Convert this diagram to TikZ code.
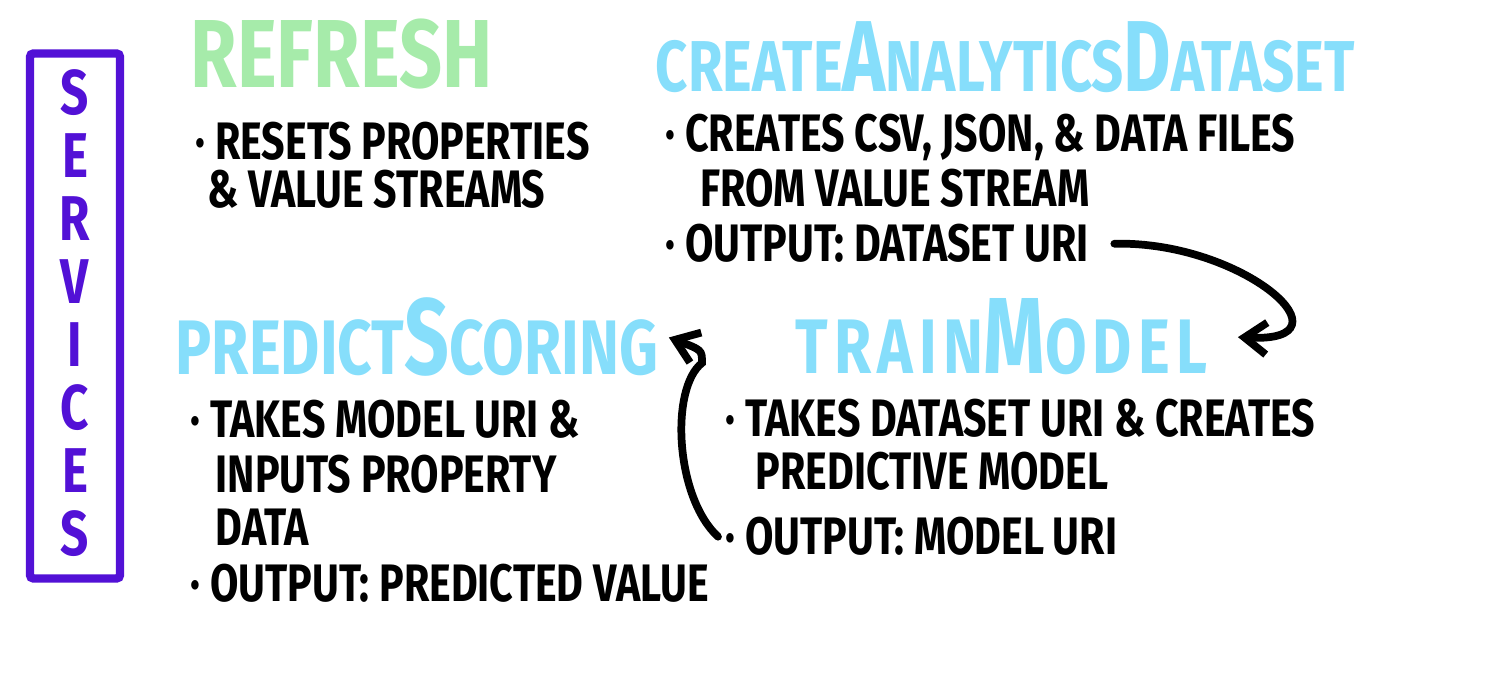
\documentclass[tikz,border=0pt]{standalone}
\usepackage{fontspec}
\usepackage{graphicx}
\setmainfont{Fira Sans}[FakeStretch=0.78]
\usetikzlibrary{arrows.meta}

\definecolor{svblue}{HTML}{86DEFB}
\definecolor{svgreen}{HTML}{A6EBAA}
\definecolor{svpurple}{HTML}{5211D6}

\newcommand\hicap[1]{\scalebox{1.3}[1.4]{#1}}

\begin{document}
\begin{tikzpicture}[
    title/.style={anchor=base west, inner sep=0pt, font=\bfseries\fontsize{21}{21}\selectfont, text=svblue},
    body/.style={anchor=base west, inner sep=0pt, font=\bfseries\fontsize{15}{15}\selectfont},
    vletter/.style={inner sep=0pt, font=\bfseries\fontsize{18}{18}\selectfont, text=svpurple},
    flow/.style={-{Straight Barb[length=2.2mm,width=3.2mm]}, line width=2.2pt, line cap=round}]
    \useasboundingbox (0,0) rectangle (15.02,6.88);

    \node[draw=svpurple, line width=2.4pt, rounded corners=1pt, minimum width=0.9cm, minimum height=5.25cm, inner sep=0pt] (services) at (0.75,3.72) {};
    \foreach \ch [count=\i] in {S,E,R,V,I,C,E,S}
        \node[vletter] (v\i) at (0.75,{6.58-0.63*\i}) {\ch};

    \node[title, text=svgreen, font=\bfseries\fontsize{27.5}{27.5}\selectfont] (refresh) at (1.90,6.00) {REFRESH};
    \node[body] (resets) at (1.95,5.28) {· RESETS PROPERTIES};
    \node[body] (resets2) at (2.07,4.80) {\& VALUE STREAMS};

    \node[title, font=\bfseries\fontsize{20.5}{20.5}\selectfont] (create) at (6.55,5.96) {CREATE\hicap{A}NALYTICS\hicap{D}ATASET};
    \node[body] (csv) at (6.65,5.36) {· CREATES CSV, JSON, \& DATA FILES};
    \node[body] (csv2) at (7.00,4.81) {FROM VALUE STREAM};
    \node[body] (dsuri) at (6.65,4.26) {· OUTPUT: DATASET URI};

    \node[title, font=\bfseries\fontsize{22}{22}\selectfont] (pred) at (1.75,3.13) {PREDICT\hicap{S}CORING};
    \node[body] (takes) at (1.90,2.50) {· TAKES MODEL URI \&};
    \node[body] (inputs) at (2.15,1.95) {INPUTS PROPERTY};
    \node[body] (data) at (2.15,1.42) {DATA};
    \node[body] (pvalue) at (1.90,0.86) {· OUTPUT: PREDICTED VALUE};

    \node[title, font=\bfseries\fontsize{22}{22}\selectfont\addfontfeature{LetterSpace=8}] (train) at (7.95,3.14) {TRAIN\hicap{M}ODEL};
    \node[body] (tkds) at (7.25,2.51) {· TAKES DATASET URI \& CREATES};
    \node[body] (predm) at (7.55,1.98) {PREDICTIVE MODEL};
    \node[body] (muri) at (7.25,1.33) {· OUTPUT: MODEL\,URI};

    \coordinate (bend) at (7.02,3.25);
    \draw[flow] ([xshift=2.5mm]dsuri.east) .. controls +(1.3,0.03) and +(1.2,-0.06) .. ([xshift=3mm]train.east);
    \draw[flow] ([xshift=-0.7mm]muri.west) .. controls +(-0.43,0.4) and (6.7,3.0) .. (bend)
        .. controls (7.02,3.38) .. ([xshift=1mm]pred.east);
\end{tikzpicture}
\end{document}
